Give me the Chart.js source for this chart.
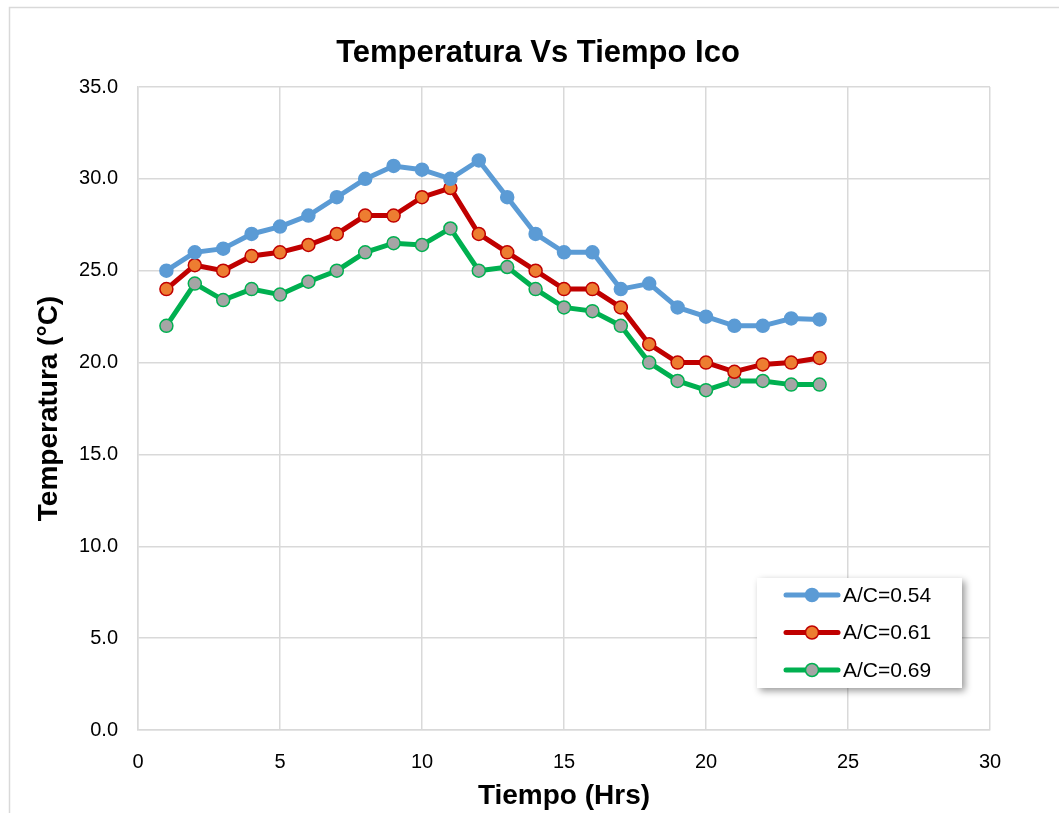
<!DOCTYPE html>
<html>
<head>
<meta charset="utf-8">
<script src="https://cdn.jsdelivr.net/npm/chart.js@4.4.1/dist/chart.umd.min.js"></script>
<style>
  html, body { margin: 0; padding: 0; background: #fff; }
  #wrap { width: 1059px; height: 813px; }
</style>
</head>
<body>
<div id="wrap"><canvas id="chart" width="1059" height="813"></canvas></div>
<script>
const hours = [1, 2, 3, 4, 5, 6, 7, 8, 9, 10, 11, 12, 13, 14, 15, 16, 17, 18, 19, 20, 21, 22, 23, 24];
const tempAc054 = [25.0, 26.0, 26.2, 27.0, 27.4, 28.0, 29.0, 30.0, 30.7, 30.5, 30.0, 31.0, 29.0, 27.0, 26.0, 26.0, 24.0, 24.3, 23.0, 22.5, 22.0, 22.0, 22.4, 22.35];
const tempAc061 = [24.0, 25.3, 25.0, 25.8, 26.0, 26.4, 27.0, 28.0, 28.0, 29.0, 29.5, 27.0, 26.0, 25.0, 24.0, 24.0, 23.0, 21.0, 20.0, 20.0, 19.5, 19.9, 20.0, 20.25];
const tempAc069 = [22.0, 24.3, 23.4, 24.0, 23.7, 24.4, 25.0, 26.0, 26.5, 26.4, 27.3, 25.0, 25.2, 24.0, 23.0, 22.8, 22.0, 20.0, 19.0, 18.5, 19.0, 19.0, 18.8, 18.8];
const seriesLabels = ["A/C=0.54", "A/C=0.61", "A/C=0.69"];
const chartTitle = "Temperatura Vs Tiempo Ico";
const xTitle = "Tiempo (Hrs)";
const yTitle = "Temperatura (°C)";

const FONT = "'Liberation Sans', Arial, sans-serif";
const grid = "#d9d9d9";

function toPoints(values) {
  return values.map((v, i) => ({ x: hours[i], y: v }));
}

// border + title drawn by hand so the title sits where Excel put it
const frame = {
  id: "frame",
  beforeDraw(chart) {
    const ctx = chart.ctx;
    ctx.save();
    ctx.fillStyle = "#fff";
    ctx.fillRect(0, 0, chart.width, chart.height);
    ctx.strokeStyle = "#d9d9d9";
    ctx.lineWidth = 1.5;
    ctx.strokeRect(9.5, 7.5, 1100, 900);
    ctx.fillStyle = "#000";
    ctx.font = "bold 31px " + FONT;
    ctx.textAlign = "center";
    ctx.textBaseline = "middle";
    ctx.fillText(chartTitle, 538, 53);
    ctx.restore();
  },
};

const boxLegend = {
  id: "boxLegend",
  afterDatasetsDraw(chart) {
    const ctx = chart.ctx;
    const x = 757, y = 578, w = 205, h = 110;
    ctx.save();
    ctx.shadowColor = "rgba(0,0,0,0.4)";
    ctx.shadowBlur = 7;
    ctx.shadowOffsetX = 3;
    ctx.shadowOffsetY = 3;
    ctx.fillStyle = "#fff";
    ctx.fillRect(x, y, w, h);
    ctx.restore();

    ctx.save();
    chart.data.datasets.forEach((ds, i) => {
      const cy = 595 + i * 37.5;
      ctx.strokeStyle = ds.borderColor;
      ctx.lineWidth = 5;
      ctx.lineCap = "round";
      ctx.beginPath();
      ctx.moveTo(786, cy);
      ctx.lineTo(838, cy);
      ctx.stroke();
      ctx.beginPath();
      ctx.arc(812, cy, 6.5, 0, Math.PI * 2);
      ctx.fillStyle = ds.pointBackgroundColor;
      ctx.fill();
      ctx.lineWidth = 1.5;
      ctx.strokeStyle = ds.pointBorderColor;
      ctx.stroke();
      ctx.fillStyle = "#000";
      ctx.font = "21px " + FONT;
      ctx.textAlign = "left";
      ctx.textBaseline = "middle";
      ctx.fillText(ds.label, 843, cy + 1);
    });
    ctx.restore();
  },
};

function series(label, values, line, fill, edge) {
  return {
    label,
    data: toPoints(values),
    borderColor: line,
    backgroundColor: line,
    borderWidth: 5,
    pointRadius: 6.5,
    pointBorderWidth: 1.5,
    pointBackgroundColor: fill,
    pointBorderColor: edge,
    tension: 0,
  };
}

new Chart(document.getElementById("chart"), {
  type: "line",
  data: {
    datasets: [
      series(seriesLabels[0], tempAc054, "#5b9bd5", "#5b9bd5", "#5b9bd5"),
      series(seriesLabels[1], tempAc061, "#c00000", "#ed7d31", "#c00000"),
      series(seriesLabels[2], tempAc069, "#00b050", "#a5a5a5", "#00b050"),
    ],
  },
  options: {
    responsive: false,
    animation: false,
    layout: { padding: { top: 87, left: 10, right: 69, bottom: 0 } },
    plugins: {
      legend: { display: false },
      title: { display: false },
      tooltip: { enabled: false },
    },
    scales: {
      x: {
        type: "linear",
        min: 0,
        max: 30,
        afterFit(scale) { scale.height = 83; },
        ticks: {
          stepSize: 5,
          padding: 20,
          color: "#000",
          font: { family: FONT, size: 20 },
        },
        grid: { color: grid, lineWidth: 1.5, drawTicks: false },
        border: { color: grid, width: 1.5 },
        title: {
          display: true,
          text: xTitle,
          color: "#000",
          font: { family: FONT, size: 28, weight: "bold" },
          padding: { top: 0, bottom: 0 },
        },
      },
      y: {
        min: 0,
        max: 35,
        afterFit(scale) { scale.width = 128; },
        ticks: {
          stepSize: 5,
          padding: 20,
          color: "#000",
          font: { family: FONT, size: 20 },
          callback: (v) => v.toFixed(1),
        },
        grid: { color: grid, lineWidth: 1.5, drawTicks: false },
        border: { color: grid, width: 1.5 },
        title: {
          display: true,
          text: yTitle,
          color: "#000",
          font: { family: FONT, size: 28, weight: "bold" },
          padding: { top: 22, bottom: 0 },
        },
      },
    },
  },
  plugins: [frame, boxLegend],
});
</script>
</body>
</html>
